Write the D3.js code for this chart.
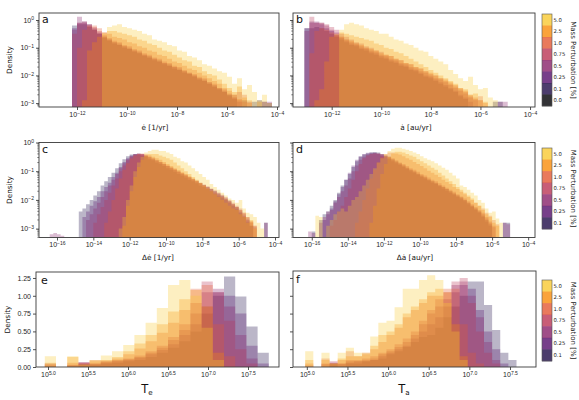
<!DOCTYPE html>
<html><head><meta charset="utf-8">
<script src="https://cdn.jsdelivr.net/npm/d3@7/dist/d3.min.js"></script>
<style>body{margin:0;background:#fff}svg{display:block;font-family:"DejaVu Sans",sans-serif}</style>
</head><body><svg id="chart" width="579" height="400"></svg>
<script>
// ---------- data ----------
const massLevels = ["0.0","0.1","0.25","0.5","0.75","1.0","2.5","5.0"];
const levelColors = ["#000004","#1f0c48","#550f6d","#88226a","#ba3655","#e35933","#f98c0a","#f9c932"];
const seriesLevels = ["0.1","0.25","0.5","0.75","1.0","2.5","5.0"]; // drawn order

// panel a: edot, log10 density per bin (bin width 0.2 decade), first bin edge log10(x)
const edotBinWidth = 0.2;
const edotStarts = [-12.2,-12.2,-12.2,-12.2,-12.0,-11.8,-11.0];
const edotLogDensity = [
 [-0.2,-0.15,-0.15,-0.25,-0.35,-0.5,-0.65,-0.75,-0.85,-0.9,-1.0,-1.05,-1.15,-1.2,-1.3,-1.35,-1.45,-1.5,-1.6,-1.65,-1.75,-1.8,-1.9,-1.95,-2.05,-2.15,-2.2,-2.3,-2.4,-2.5,-2.6,-2.7,-2.85,null,-2.9,null,-2.95,-2.9,-2.95,-3.0],
 [-0.3,-0.1,-0.05,-0.15,-0.3,-0.45,-0.6,-0.7,-0.8,-0.85,-0.95,-1.0,-1.1,-1.15,-1.25,-1.3,-1.4,-1.45,-1.55,-1.6,-1.7,-1.75,-1.85,-1.9,-2.0,-2.1,-2.15,-2.25,-2.35,-2.45,-2.55,-2.7,-2.8,-2.95],
 [-0.35,0.12,-0.1,-0.2,-0.35,-0.5,-0.6,-0.7,-0.8,-0.9,-0.95,-1.05,-1.1,-1.2,-1.25,-1.35,-1.4,-1.5,-1.55,-1.65,-1.7,-1.8,-1.85,-1.95,-2.0,-2.1,-2.2,-2.3,-2.4,-2.5,-2.6,-2.75,-2.7,-2.9,null,-2.95,null,null,-2.95,-2.95],
 [-0.5,-0.1,-0.05,-0.15,-0.25,-0.4,-0.55,-0.65,-0.75,-0.8,-0.9,-0.95,-1.05,-1.1,-1.2,-1.25,-1.35,-1.4,-1.5,-1.55,-1.65,-1.7,-1.8,-1.9,-1.95,-2.05,-2.1,-2.25,-2.3,-2.45,-2.5,-2.65,-2.8,-2.6,-2.95],
 [-1.0,-0.35,-0.2,-0.2,-0.3,-0.45,-0.5,-0.6,-0.65,-0.7,-0.8,-0.85,-0.95,-1.0,-1.1,-1.15,-1.25,-1.3,-1.4,-1.5,-1.55,-1.65,-1.75,-1.8,-1.9,-2.0,-2.1,-2.2,-2.3,-2.45,-2.55,-2.7,-2.85,-2.7,-3.0],
 [-2.9,-1.1,-0.8,-0.6,-0.45,-0.4,-0.4,-0.45,-0.5,-0.55,-0.6,-0.7,-0.75,-0.85,-0.9,-1.0,-1.1,-1.15,-1.25,-1.35,-1.45,-1.5,-1.65,-1.7,-1.85,-1.95,-2.0,-2.15,-2.3,-2.45,-2.6,-2.4,-2.8,-2.9,null,-2.95],
 [-0.5,-0.25,-0.2,-0.15,-0.25,-0.3,-0.35,-0.4,-0.5,-0.55,-0.7,-0.75,-0.8,-0.9,-0.95,-1.1,-1.15,-1.3,-1.35,-1.45,-1.6,-1.65,-1.75,-1.85,-1.9,-2.05,-2.3,-2.1,-2.5,-2.35,-2.6,-2.9,-2.7,-3.0]
];

// panel b: adot
const adotBinWidth = 0.2;
const adotStarts = [-13.1,-13.1,-13.1,-12.9,-12.9,-12.7,-11.7];
const adotLogDensity = [
 [-0.3,-0.3,-0.25,-0.3,-0.4,-0.5,-0.6,-0.7,-0.8,-0.9,-0.95,-1.05,-1.1,-1.2,-1.25,-1.35,-1.4,-1.5,-1.55,-1.65,-1.7,-1.8,-1.85,-1.95,-2.05,-2.1,-2.2,-2.3,-2.4,-2.5,-2.6,-2.75,-2.85,null,null,null,null,null,-2.95,-2.95],
 [-0.3,-0.05,-0.1,-0.15,-0.3,-0.4,-0.55,-0.65,-0.75,-0.85,-0.9,-1.0,-1.05,-1.15,-1.2,-1.3,-1.35,-1.45,-1.5,-1.6,-1.65,-1.75,-1.8,-1.9,-2.0,-2.05,-2.15,-2.25,-2.35,-2.45,-2.55,-2.7,-2.8,-2.95],
 [-0.4,-0.1,-0.05,-0.1,-0.2,-0.35,-0.45,-0.6,-0.7,-0.8,-0.85,-0.95,-1.0,-1.1,-1.15,-1.25,-1.3,-1.4,-1.45,-1.55,-1.6,-1.7,-1.75,-1.85,-1.9,-2.0,-2.1,-2.15,-2.25,-2.35,-2.45,-2.55,-2.65,-2.8,-2.9,null,null,null,null,-2.95,-2.95],
 [0.12,-0.1,-0.1,-0.15,-0.25,-0.35,-0.5,-0.6,-0.7,-0.8,-0.85,-0.95,-1.0,-1.1,-1.15,-1.25,-1.3,-1.4,-1.45,-1.55,-1.6,-1.7,-1.75,-1.85,-1.95,-2.0,-2.1,-2.2,-2.3,-2.4,-2.5,-2.6,-2.75,-2.85,-2.9],
 [-1.2,-0.4,-0.3,-0.35,-0.45,-0.55,-0.6,-0.7,-0.75,-0.85,-0.9,-1.0,-1.05,-1.1,-1.2,-1.25,-1.3,-1.4,-1.45,-1.55,-1.6,-1.7,-1.75,-1.85,-1.9,-2.0,-2.1,-2.15,-2.25,-2.35,-2.45,-2.55,-2.7,-2.8,-2.75,-3.0],
 [-2.9,-2.5,-1.5,-0.6,-0.5,-0.45,-0.5,-0.55,-0.6,-0.65,-0.7,-0.75,-0.85,-0.9,-1.0,-1.05,-1.15,-1.2,-1.3,-1.4,-1.5,-1.6,-1.7,-1.8,-1.9,-2.0,-2.1,-2.2,-2.3,-2.45,-2.5,-2.7,-2.65,-2.9,-2.95],
 [-0.35,-0.15,-0.1,-0.15,-0.2,-0.3,-0.35,-0.4,-0.5,-0.5,-0.6,-0.7,-0.75,-0.85,-0.9,-1.0,-1.1,-1.15,-1.3,-1.4,-1.5,-1.6,-1.8,-1.95,-2.1,-2.2,-2.05,-2.35,-2.5,-2.45,-2.8,-2.9]
];

// panel c: delta edot
const dEdotBinWidth = 0.2;
const dEdotStarts = [-14.8,-14.6,-16.4,-14.0,-13.4,-12.4,-12.6];
const dEdotLogDensity = [
 [-2.4,-2.3,-2.15,-2.0,-1.85,-1.7,-1.5,-1.35,-1.2,-1.05,-0.9,-0.72,-0.58,-0.48,-0.42,-0.4,-0.42,-0.45,-0.5,-0.58,-0.62,-0.7,-0.75,-0.82,-0.9,-0.95,-1.02,-1.1,-1.15,-1.22,-1.3,-1.35,-1.42,-1.5,-1.55,-1.62,-1.7,-1.78,-1.85,-1.92,-2.0,-2.1,-2.2,-2.3,-2.45,-2.6,-2.75,-2.9,null,null,null,-2.8],
 [-2.6,-2.4,-2.2,-2.05,-1.9,-1.7,-1.55,-1.4,-1.2,-1.05,-0.85,-0.68,-0.55,-0.45,-0.4,-0.38,-0.4,-0.45,-0.5,-0.56,-0.62,-0.68,-0.75,-0.82,-0.88,-0.95,-1.02,-1.08,-1.15,-1.22,-1.28,-1.35,-1.42,-1.48,-1.55,-1.62,-1.7,-1.78,-1.85,-1.95,-2.05,-2.15,-2.25,-2.4,-2.55,-2.7,-2.9],
 [-3.2,-3.15,-3.2,-3.25,null,null,null,null,null,null,-2.7,-2.5,-2.3,-2.1,-1.9,-1.7,-1.5,-1.3,-1.1,-0.9,-0.72,-0.58,-0.48,-0.42,-0.4,-0.42,-0.46,-0.52,-0.58,-0.64,-0.7,-0.76,-0.82,-0.9,-0.96,-1.02,-1.1,-1.16,-1.22,-1.3,-1.36,-1.42,-1.5,-1.56,-1.62,-1.7,-1.78,-1.86,-1.95,-2.05,-2.15,-2.25,-2.35,-2.5,-2.65,-2.8,-2.95,null,null,-2.8],
 [-2.8,-2.5,-2.25,-2.0,-1.75,-1.5,-1.25,-1.0,-0.8,-0.62,-0.5,-0.42,-0.38,-0.4,-0.45,-0.5,-0.55,-0.62,-0.68,-0.74,-0.8,-0.86,-0.92,-1.0,-1.06,-1.12,-1.2,-1.26,-1.32,-1.4,-1.46,-1.52,-1.6,-1.66,-1.74,-1.82,-1.9,-2.0,-2.1,-2.2,-2.3,-2.45,-2.6,-2.75,-2.9],
 [-2.8,-2.4,-2.0,-1.6,-1.25,-0.95,-0.72,-0.56,-0.45,-0.4,-0.38,-0.4,-0.44,-0.5,-0.55,-0.6,-0.68,-0.75,-0.82,-0.9,-0.96,-1.04,-1.1,-1.18,-1.26,-1.34,-1.42,-1.5,-1.58,-1.66,-1.74,-1.82,-1.9,-1.98,-2.06,-2.15,-2.25,-2.35,-2.45,-2.6,-2.75,-2.9],
 [-2.9,-2.2,-1.7,-1.2,-0.85,-0.6,-0.45,-0.4,-0.4,-0.4,-0.45,-0.5,-0.55,-0.6,-0.7,-0.8,-0.9,-1.0,-1.1,-1.2,-1.3,-1.4,-1.5,-1.6,-1.7,-1.8,-1.9,-2.0,-2.1,-2.2,-2.3,-2.35,-2.5,-2.6,-2.8,-2.7,-3.0],
 [-3.0,-2.6,-2.0,-1.5,-1.0,-0.7,-0.5,-0.35,-0.3,-0.25,-0.25,-0.3,-0.3,-0.35,-0.4,-0.5,-0.55,-0.65,-0.7,-0.8,-0.9,-1.0,-1.1,-1.2,-1.3,-1.45,-1.55,-1.65,-1.75,-1.85,-1.95,-2.0,-2.1,-2.0,-2.3,-2.45,-2.5,-2.6,-2.8,-3.0]
];

// panel d: delta adot
const dAdotBinWidth = 0.2;
const dAdotStarts = [-16.0,-15.4,-16.2,-15.0,-13.6,-12.8,-15.8];
const dAdotLogDensity = [
 [-3.1,null,-2.7,-2.5,-2.4,-2.2,-2.0,-1.75,-1.5,-1.3,-1.1,-0.85,-0.65,-0.5,-0.42,-0.38,-0.35,-0.33,-0.35,-0.4,-0.45,-0.5,-0.58,-0.65,-0.72,-0.8,-0.88,-0.95,-1.02,-1.1,-1.15,-1.22,-1.3,-1.35,-1.42,-1.5,-1.55,-1.62,-1.7,-1.78,-1.85,-1.92,-2.0,-2.1,-2.2,-2.3,-2.4,-2.55,-2.7,-2.85,null,null,null,-2.8,-2.8],
 [-2.7,-2.5,-2.3,-2.05,-1.8,-1.55,-1.3,-1.05,-0.8,-0.6,-0.48,-0.4,-0.36,-0.35,-0.37,-0.4,-0.45,-0.5,-0.57,-0.65,-0.72,-0.78,-0.85,-0.92,-1.0,-1.05,-1.12,-1.2,-1.25,-1.32,-1.4,-1.45,-1.52,-1.6,-1.68,-1.75,-1.82,-1.9,-1.98,-2.05,-2.15,-2.25,-2.35,-2.45,-2.6,-2.75,-2.9],
 [-3.1,-3.15,null,-2.8,-2.6,-2.4,-2.35,-2.1,-1.9,-1.7,-1.5,-1.25,-1.0,-0.8,-0.6,-0.5,-0.42,-0.38,-0.36,-0.38,-0.42,-0.48,-0.55,-0.6,-0.68,-0.75,-0.8,-0.88,-0.95,-1.0,-1.08,-1.15,-1.2,-1.28,-1.35,-1.4,-1.48,-1.55,-1.62,-1.7,-1.78,-1.85,-1.92,-2.0,-2.1,-2.2,-2.3,-2.4,-2.5,-2.65,-2.8,-2.95,null,null,-2.8,-2.85],
 [-2.9,-2.7,-2.4,-2.2,-1.9,-1.6,-1.3,-1.0,-0.75,-0.55,-0.45,-0.4,-0.38,-0.38,-0.4,-0.45,-0.5,-0.55,-0.62,-0.7,-0.75,-0.82,-0.9,-0.95,-1.02,-1.1,-1.15,-1.22,-1.3,-1.35,-1.42,-1.5,-1.58,-1.65,-1.72,-1.8,-1.88,-1.95,-2.05,-2.15,-2.25,-2.35,-2.45,-2.6,-2.75,-2.9],
 [-2.8,-2.4,-2.0,-1.6,-1.25,-0.95,-0.7,-0.5,-0.4,-0.35,-0.35,-0.38,-0.42,-0.48,-0.55,-0.6,-0.68,-0.75,-0.82,-0.9,-0.98,-1.05,-1.12,-1.2,-1.3,-1.38,-1.45,-1.55,-1.62,-1.72,-1.8,-1.9,-2.0,-2.1,-2.2,-2.3,-2.45,-2.55,-2.7,-2.85],
 [-2.8,-2.2,-1.6,-1.1,-0.75,-0.5,-0.38,-0.32,-0.32,-0.35,-0.4,-0.45,-0.5,-0.58,-0.65,-0.72,-0.8,-0.88,-0.95,-1.05,-1.15,-1.25,-1.35,-1.45,-1.55,-1.65,-1.75,-1.85,-1.95,-2.1,-2.2,-2.35,-2.5,-2.6,-2.8,-2.9],
 [-2.55,-2.6,null,-2.9,-2.7,-2.5,-2.4,-2.3,-2.4,-2.2,-2.0,-1.9,-1.7,-1.5,-1.3,-1.1,-0.9,-0.7,-0.55,-0.4,-0.3,-0.22,-0.18,-0.18,-0.22,-0.25,-0.3,-0.35,-0.4,-0.48,-0.55,-0.6,-0.65,-0.72,-0.8,-0.88,-0.95,-1.05,-1.15,-1.25,-1.5,-1.55,-1.65,-1.75,-1.85,-2.0,-2.1,-2.3,-2.45,-2.4,-2.65,-2.8]
];

// panel e: T_e (linear density, bin width 0.14 decade, all start at 10^4.96)
const teBinWidth = 0.14;
const teStarts = [4.96,4.96,4.96,4.96,4.96,4.96,4.96];
const teDensity = [
 [0,0,0,0.04,0.03,0.05,0.06,0.08,0.1,0.14,0.2,0.27,0.36,0.5,0.75,1.0,1.27,0.99,0.57,0.2],
 [0,0,0.02,0.05,0.04,0.06,0.08,0.1,0.13,0.18,0.24,0.32,0.45,0.6,0.85,1.05,1.0,0.75,0.3,0.05],
 [0.05,0,0.02,0.07,0.05,0.08,0.09,0.11,0.14,0.2,0.27,0.38,0.52,0.75,1.05,1.1,0.85,0.45,0.12],
 [0.02,0,0.03,0.06,0.05,0.07,0.1,0.12,0.16,0.22,0.3,0.42,0.6,0.9,1.2,1.05,0.65,0.25,0.05],
 [0.04,0,0.06,0.06,0.1,0.09,0.12,0.18,0.26,0.36,0.48,0.62,0.8,1.1,1.15,0.6,0.15],
 [0.06,0,0.14,0.03,0.08,0.1,0.14,0.22,0.33,0.45,0.6,0.78,0.95,1.08,0.85,0.2],
 [0.15,0,0.15,0.04,0.1,0.16,0.22,0.31,0.45,0.62,0.83,1.15,1.22,1.0,0.55,0.1]
];

// panel f: T_a (bin width 0.1 decade, start 10^4.98)
const taBinWidth = 0.1;
const taStarts = [4.98,4.98,4.98,4.98,4.98,4.98,4.98];
const taDensity = [
 [0,0,0,0.04,0,0.05,0.05,0.08,0.1,0.12,0.18,0.22,0.28,0.35,0.42,0.45,0.55,0.7,0.85,1.0,1.2,1.2,0.87,0.52,0.2,0.1],
 [0,0,0,0.05,0.04,0.06,0.08,0.08,0.1,0.15,0.2,0.25,0.3,0.4,0.5,0.6,0.7,0.85,1.05,1.15,1.1,0.8,0.5,0.25,0.05],
 [0.02,0,0.04,0.06,0.05,0.08,0.08,0.1,0.12,0.18,0.22,0.28,0.35,0.45,0.6,0.75,0.85,0.95,1.15,1.2,1.0,0.7,0.35,0.1],
 [0,0,0.05,0.08,0.05,0.1,0.1,0.12,0.15,0.2,0.25,0.32,0.4,0.5,0.65,0.8,0.95,1.05,1.2,1.25,0.9,0.5,0.2,0.05],
 [0.05,0,0.12,0.05,0.1,0.22,0.15,0.2,0.25,0.35,0.45,0.55,0.7,0.8,0.9,1.0,1.0,1.1,1.1,0.6,0.2,0.05],
 [0.1,0,0.1,0.05,0.12,0.15,0.15,0.18,0.3,0.45,0.5,0.6,0.75,0.85,0.95,1.05,1.1,1.05,0.6,0.15],
 [0.22,0,0.2,0.05,0.2,0.27,0.2,0.2,0.43,0.62,0.65,0.84,1.1,1.1,1.22,1.29,1.22,0.9,0.5,0.1]
];

const logXTicks = [-16,-14,-12,-10,-8,-6,-4];
const tXTicks = [5.0,5.5,6.0,6.5,7.0,7.5];
const logYTicks = [0,-1,-2,-3];
const linYTicks = [0,0.25,0.5,0.75,1.0,1.25];

// ---------- layout ----------
const svg = d3.select("#chart");
const ink = "#262626";
const colorOf = lv => levelColors[massLevels.indexOf(lv)];

const panels = [
 {id:"a", L:39, R:279, T:13, B:107, xd:[-13.52,-3.92], yd:[-3.14,0.253], log:true, xt:[-12,-10,-8,-6,-4], ylab:true,
  starts:edotStarts, data:edotLogDensity, w:edotBinWidth, letter:"a", lx:42, ly:23, xlabel:"ė [1/yr]", xlx:155, xly:130},
 {id:"b", L:293, R:535, T:13, B:107, xd:[-13.56,-3.8], yd:[-3.14,0.253], log:true, xt:[-12,-10,-8,-6,-4], ylab:false,
  starts:adotStarts, data:adotLogDensity, w:adotBinWidth, letter:"b", lx:296, ly:23, xlabel:"ȧ [au/yr]", xlx:416, xly:130},
 {id:"c", L:39, R:279, T:142.5, B:237.5, xd:[-16.99,-3.78], yd:[-3.31,0], log:true, xt:logXTicks, ylab:true,
  starts:dEdotStarts, data:dEdotLogDensity, w:dEdotBinWidth, letter:"c", lx:42, ly:153, xlabel:"Δė [1/yr]", xlx:158, xly:260},
 {id:"d", L:293, R:535, T:142.5, B:237.5, xd:[-17.04,-3.62], yd:[-3.31,0], log:true, xt:logXTicks, ylab:false,
  starts:dAdotStarts, data:dAdotLogDensity, w:dAdotBinWidth, letter:"d", lx:296, ly:153, xlabel:"Δȧ [au/yr]", xlx:415, xly:260},
 {id:"e", L:36, R:279, T:272, B:367, xd:[4.85,7.8875], yd:[0,1.334], log:false, xt:tXTicks, ylab:true,
  starts:teStarts, data:teDensity, w:teBinWidth, letter:"e", lx:41, ly:284, xlabel:"T", sub:"e", xlx:147, xly:393},
 {id:"f", L:293, R:536, T:271, B:367, xd:[4.83,7.82], yd:[0,1.348], log:false, xt:tXTicks, ylab:false,
  starts:taStarts, data:taDensity, w:taBinWidth, letter:"f", lx:296, ly:283, xlabel:"T", sub:"a", xlx:404, xly:393}
];

const fmtExp = (v, dec) => {
  const s = dec ? v.toFixed(1) : String(Math.round(v));
  return s.replace("-", "\u2212");
};

panels.forEach(p => {
  const g = svg.append("g");
  const x = d3.scaleLog().domain([Math.pow(10,p.xd[0]), Math.pow(10,p.xd[1])]).range([p.L, p.R]);
  const y = p.log ? d3.scaleLog().domain([Math.pow(10,p.yd[0]), Math.pow(10,p.yd[1])]).range([p.B, p.T])
                  : d3.scaleLinear().domain(p.yd).range([p.B, p.T]);
  const clipId = "clip" + p.id;
  g.append("clipPath").attr("id", clipId).append("rect")
    .attr("x", p.L).attr("y", p.T).attr("width", p.R - p.L).attr("height", p.B - p.T);
  const bars = g.append("g").attr("clip-path", `url(#${clipId})`);

  p.data.forEach((vals, si) => {
    const start = p.starts[si];
    let d = "", open = false, lastX = 0;
    vals.forEach((v, k) => {
      const xa = x(Math.pow(10, start + k * p.w)), xb = x(Math.pow(10, start + (k + 1) * p.w));
      const empty = v === null || (!p.log && v <= 0);
      if (empty) { if (open) { d += `L${lastX},${p.B + 1}Z`; open = false; } return; }
      const yy = p.log ? y(Math.pow(10, v)) : y(v);
      if (!open) { d += `M${xa},${p.B + 1}`; open = true; }
      d += `L${xa},${yy}L${xb},${yy}`;
      lastX = xb;
    });
    if (open) d += `L${lastX},${p.B + 1}Z`;
    bars.append("path").attr("d", d)
      .attr("fill", colorOf(seriesLevels[si])).attr("fill-opacity", 0.3);
  });

  // x axis
  const xAxis = d3.axisBottom(x).tickValues(p.xt.map(e => Math.pow(10, e))).tickSize(3).tickPadding(2)
    .tickFormat(() => "");
  const gx = g.append("g").attr("transform", `translate(0,${p.B})`).call(xAxis);
  gx.select(".domain").remove();
  gx.selectAll(".tick line").attr("stroke", ink).attr("stroke-width", 0.8);
  gx.selectAll(".tick text").attr("font-size", 7).attr("fill", ink).each(function(dv) {
    const t = d3.select(this);
    t.append("tspan").text("10");
    t.append("tspan").attr("dy", "-0.45em").attr("font-size", "72%")
      .text(fmtExp(Math.log10(dv), !p.log));
  });

  // y axis
  const yAxis = p.log
    ? d3.axisLeft(y).tickValues(logYTicks.map(e => Math.pow(10, e))).tickSize(3).tickPadding(2).tickFormat(() => "")
    : d3.axisLeft(y).tickValues(linYTicks).tickSize(3).tickPadding(2).tickFormat(p.ylab ? d3.format(".2f") : () => "");
  const gy = g.append("g").attr("transform", `translate(${p.L},0)`).call(yAxis);
  gy.select(".domain").remove();
  gy.selectAll(".tick line").attr("stroke", ink).attr("stroke-width", 0.8);
  gy.selectAll(".tick text").attr("font-size", 7).attr("fill", ink);
  if (p.log && p.ylab) {
    gy.selectAll(".tick text").each(function(dv) {
      const t = d3.select(this);
      t.append("tspan").text("10");
      t.append("tspan").attr("dy", "-0.45em").attr("font-size", "72%").text(fmtExp(Math.log10(dv), false));
    });
  }
  if (p.log) {
    const minors = [];
    for (let e = -4; e <= 0; e++) for (let m = 2; m <= 9; m++) {
      const v = m * Math.pow(10, e);
      if (Math.log10(v) > p.yd[0] && Math.log10(v) < p.yd[1]) minors.push(v);
    }
    g.selectAll(null).data(minors).enter().append("line")
      .attr("x1", p.L - 1.7).attr("x2", p.L).attr("y1", d => y(d)).attr("y2", d => y(d))
      .attr("stroke", ink).attr("stroke-width", 0.6);
  }

  // frame
  g.append("rect").attr("x", p.L).attr("y", p.T).attr("width", p.R - p.L).attr("height", p.B - p.T)
    .attr("fill", "none").attr("stroke", "#3a3a3a").attr("stroke-width", 0.9);

  // panel letter
  g.append("text").attr("x", p.lx).attr("y", p.ly).attr("font-size", 11).attr("fill", "#111").text(p.letter);

  // x label
  if (p.sub) {
    const t = g.append("text").attr("x", p.xlx).attr("y", p.xly).attr("text-anchor", "middle")
      .attr("font-size", 11.5).attr("fill", "#111");
    t.append("tspan").text(p.xlabel);
    t.append("tspan").attr("dy", "0.3em").attr("font-size", "62%").text(p.sub);
  } else {
    g.append("text").attr("x", p.xlx).attr("y", p.xly).attr("text-anchor", "middle")
      .attr("font-size", 7.3).attr("fill", "#111").text(p.xlabel);
  }

  // y label
  if (p.ylab) {
    const cx = p.id === "e" ? 10 : 12;
    const cy = (p.T + p.B) / 2;
    g.append("text").attr("transform", `translate(${cx},${cy}) rotate(-90)`).attr("text-anchor", "middle")
      .attr("font-size", 7.3).attr("fill", "#111").text("Density");
  }
});

// ---------- colorbars ----------
const colorbars = [
  {T:14, B:106, levels:massLevels},
  {T:148, B:229, levels:massLevels.slice(1)},
  {T:280, B:361, levels:massLevels.slice(1)}
];
colorbars.forEach(cb => {
  const g = svg.append("g");
  const lv = cb.levels.slice().reverse(); // top = 5.0
  const band = d3.scaleBand().domain(lv).range([cb.T, cb.B]);
  g.selectAll(null).data(lv).enter().append("rect")
    .attr("x", 542).attr("y", d => band(d)).attr("width", 10).attr("height", band.bandwidth() + 0.3)
    .attr("fill", d => colorOf(d)).attr("fill-opacity", 0.8);
  g.append("rect").attr("x", 542).attr("y", cb.T).attr("width", 10).attr("height", cb.B - cb.T)
    .attr("fill", "none").attr("stroke", "#555").attr("stroke-width", 0.6);
  g.selectAll(null).data(lv).enter().append("text")
    .attr("x", 553.5).attr("y", d => band(d) + band.bandwidth() / 2).attr("dy", "0.35em")
    .attr("font-size", 5.3).attr("fill", "#222").text(d => d);
  g.append("text").attr("transform", `translate(573,${(cb.T + cb.B) / 2}) rotate(90)`)
    .attr("text-anchor", "middle").attr("dy", "0.3em").attr("font-size", 7).attr("fill", "#222")
    .text("Mass Perturbation [%]");
});
</script></body></html>
